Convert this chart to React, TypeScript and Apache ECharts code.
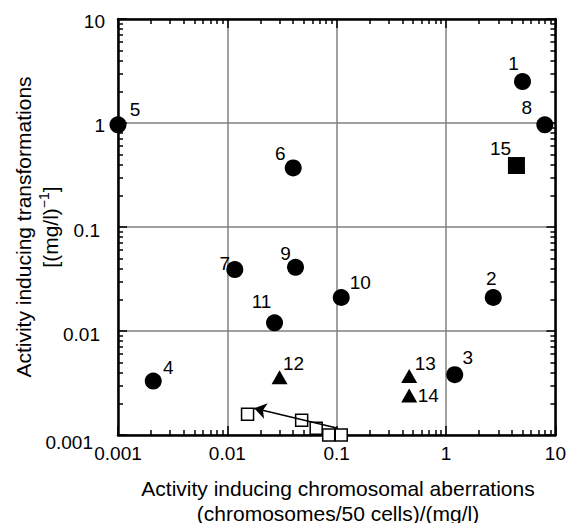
import { useEffect, useRef } from 'react';
import * as echarts from 'echarts';

const FONT = '"Liberation Sans", Arial, Helvetica, sans-serif';

const tickLabels = ['0.001', '0.01', '0.1', '1', '10'];

// filled circles
const circleNames = ['1', '2', '3', '4', '5', '6', '7', '8', '9', '10', '11'];
const circleX = [5.0, 2.7, 1.2, 0.0021, 0.001, 0.04, 0.0117, 8.0, 0.042, 0.11, 0.027];
const circleY = [2.5, 0.021, 0.0038, 0.0033, 0.96, 0.37, 0.039, 0.96, 0.041, 0.021, 0.012];

// filled triangles
const triNames = ['12', '13', '14'];
const triX = [0.03, 0.46, 0.46];
const triY = [0.0036, 0.0037, 0.0024];

// filled square
const sqNames = ['15'];
const sqX = [4.4];
const sqY = [0.39];

// open squares
const openX = [0.0153, 0.0478, 0.0649, 0.0845, 0.11];
const openY = [0.00158, 0.00139, 0.00116, 0.001, 0.001];

// arrow
const arrowFrom = [0.1, 0.00117];
const arrowTo = [0.0176, 0.00181];

// label offsets (presentation only)
const labelOffsets: Record<string, [number, number]> = {
  '1': [-9, -18], '2': [-2, -19], '3': [13, -17], '4': [15, -14], '5': [17, -15],
  '6': [-13, -14], '7': [-10, -6], '8': [-18, -17], '9': [-10, -14], '10': [19, -15],
  '11': [-13, -21], '12': [14, -14], '13': [16, -12], '14': [19, 0], '15': [-16, -17],
};

const X_MIN = 0.001, X_MAX = 10, Y_MIN = 0.001, Y_MAX = 10;

function pointItems(names: string[], xs: number[], ys: number[]) {
  return names.map((n, i) => ({
    name: n,
    value: [xs[i], ys[i]],
    label: { offset: labelOffsets[n] },
  }));
}

function labelStyle() {
  return {
    show: true,
    position: 'inside',
    formatter: (p: any) => p.name,
    color: '#000',
    fontSize: 19,
    fontFamily: FONT,
  };
}

function fmtLabel(v: number) {
  const idx = Math.round(Math.log10(v)) + 3;
  return tickLabels[idx];
}

function frameAxis(min: number, max: number, position: string) {
  return {
    type: 'log', logBase: 10, min, max, splitNumber: 4, position,
    axisLine: { show: true, onZero: false, lineStyle: { color: '#000', width: 2.5 } },
    axisTick: { show: true, inside: true, length: 9, lineStyle: { color: '#000', width: 1.5 } },
    minorTick: { show: true, splitNumber: 9, length: 5, lineStyle: { color: '#000', width: 1.5 } },
    splitLine: { show: false },
    axisLabel: { show: false },
  };
}

export default function App() {
  const ref = useRef<HTMLDivElement>(null);
  useEffect(() => {
    document.body.style.margin = '0';
    const chart = echarts.init(ref.current!, null, { renderer: 'svg' });
    const xMain: any = frameAxis(X_MIN, X_MAX, 'bottom');
    xMain.splitLine = { show: true, lineStyle: { color: '#808080', width: 1.5 } };
    xMain.axisLabel = {
      show: true, margin: 9, color: '#000', fontSize: 19, fontFamily: FONT,
      formatter: (v: number) => fmtLabel(v),
    };
    const yMain: any = frameAxis(Y_MIN, Y_MAX, 'left');
    yMain.splitLine = { show: true, lineStyle: { color: '#808080', width: 1.5 } };
    yMain.axisLabel = {
      show: true, margin: 13, color: '#000', fontSize: 19, fontFamily: FONT,
      formatter: (v: number) => {
        const t = fmtLabel(v);
        if (t === '0.001') return '{c|' + t + '}';
        if (t === '0.1' || t === '0.01') return '{b|' + t + '}';
        return '{a|' + t + '}';
      },
      rich: {
        a: { fontSize: 19, fontFamily: FONT, color: '#000', padding: [4, 0, 0, 0] },
        b: { fontSize: 19, fontFamily: FONT, color: '#000', padding: [6, 5, 0, 0] },
        c: { fontSize: 19, fontFamily: FONT, color: '#000', padding: [14, 12, 0, 0] },
      },
    };
    const option: any = {
      animation: false,
      backgroundColor: '#fff',
      grid: { left: 118, right: 11, top: 19, bottom: 88 },
      xAxis: [xMain, frameAxis(X_MIN, X_MAX, 'top')],
      yAxis: [yMain, frameAxis(Y_MIN, Y_MAX, 'right')],
      graphic: [
        {
          type: 'text', x: 338, y: 488,
          style: {
            text: 'Activity inducing chromosomal aberrations', font: '21px ' + FONT, fill: '#000',
            align: 'center', verticalAlign: 'middle', textAlign: 'center', textVerticalAlign: 'middle',
          },
        },
        {
          type: 'text', x: 338, y: 513,
          style: {
            text: '(chromosomes/50 cells)/(mg/l)', font: '21px ' + FONT, fill: '#000',
            align: 'center', verticalAlign: 'middle', textAlign: 'center', textVerticalAlign: 'middle',
          },
        },
        {
          type: 'text', x: 23, y: 227, rotation: Math.PI / 2,
          style: {
            text: 'Activity inducing transformations', font: '21px ' + FONT, fill: '#000',
            align: 'center', verticalAlign: 'middle', textAlign: 'center', textVerticalAlign: 'middle',
          },
        },
        {
          type: 'text', x: 50, y: 227, rotation: Math.PI / 2,
          style: {
            text: '{n|[(mg/l)}{s|−1}{n|]}', fill: '#000',
            align: 'center', verticalAlign: 'middle', textAlign: 'center', textVerticalAlign: 'middle',
            rich: {
              n: { fontSize: 21, fontFamily: FONT, fill: '#000', color: '#000' },
              s: { fontSize: 14, fontFamily: FONT, fill: '#000', color: '#000', padding: [0, 0, 12, 0] },
            },
          },
        },
      ],
      series: [
        {
          type: 'scatter', name: 'circles', z: 3, clip: false,
          symbol: 'circle', symbolSize: 17,
          itemStyle: { color: '#000', opacity: 1 },
          label: labelStyle(),
          data: pointItems(circleNames, circleX, circleY),
        },
        {
          type: 'scatter', name: 'triangles', z: 3, clip: false,
          symbol: 'triangle', symbolSize: [16, 14],
          itemStyle: { color: '#000', opacity: 1 },
          label: labelStyle(),
          data: pointItems(triNames, triX, triY),
        },
        {
          type: 'scatter', name: 'square', z: 3, clip: false,
          symbol: 'rect', symbolSize: 17,
          itemStyle: { color: '#000', opacity: 1 },
          label: labelStyle(),
          data: pointItems(sqNames, sqX, sqY),
        },
        {
          type: 'scatter', name: 'open', z: 3, clip: false,
          symbol: 'rect', symbolSize: 12,
          itemStyle: { color: '#fff', borderColor: '#000', borderWidth: 1.5, opacity: 1 },
          data: openX.map((x, i) => [x, openY[i]]),
          markLine: {
            silent: true,
            symbol: ['none', 'arrow'],
            symbolSize: 12,
            lineStyle: { color: '#000', width: 1.5, type: 'solid', opacity: 1 },
            label: { show: false },
            emphasis: { disabled: true },
            data: [[{ coord: arrowFrom }, { coord: arrowTo }]],
          },
        },
      ],
    };
    chart.setOption(option);
    return () => chart.dispose();
  }, []);
  return <div ref={ref} style={{ width: 569, height: 523 }} />;
}
